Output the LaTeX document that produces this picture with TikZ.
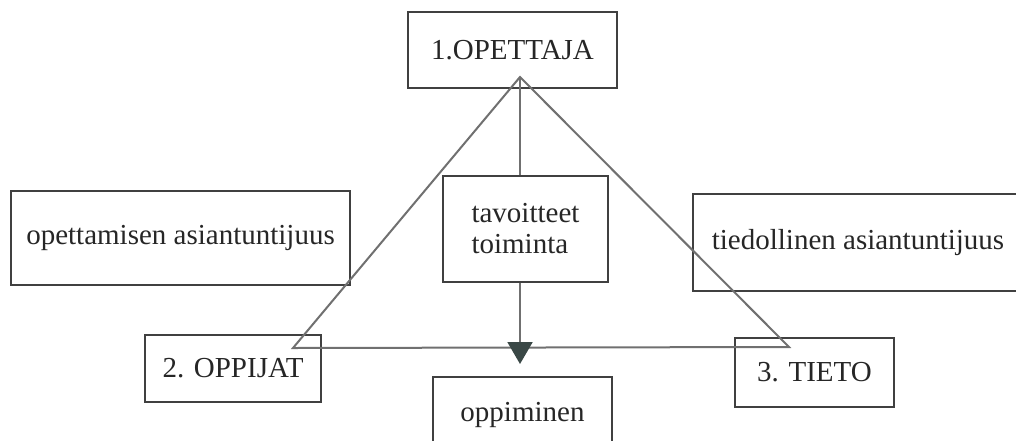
\documentclass[tikz,border=0pt]{standalone}
\usepackage{fontspec}
\setmainfont{Liberation Serif}
\usepackage{tikz}
\usepackage{xcolor}
\usetikzlibrary{positioning,arrows.meta,calc}

\definecolor{boxline}{RGB}{64,64,64}
\definecolor{triline}{RGB}{112,112,112}
\definecolor{tipfill}{RGB}{58,72,70}

\begin{document}
\begin{tikzpicture}[x=1pt, y=-1pt,
    font=\fontsize{29}{31}\selectfont,
    box/.style={rectangle, draw=boxline, line width=1.3pt, text=black!85, inner sep=0pt},
    tri/.style={draw=triline, line width=2pt}]

\useasboundingbox (0,0) rectangle (1016,440);
\clip (0,0) rectangle (1016,440);

% Corners

\node[box, minimum width = 209, minimum height = 76]  (OpettajaNode) at (512.5,50)  {1.OPETTAJA};
\node[box, minimum width = 176, minimum height = 67]  (OppijatNode)  at (233,368.5) {2. OPPIJAT};
\node[box, minimum width = 159, minimum height = 69]  (TietoNode)    at (814.5,372.5) {3. TIETO};

% Sides

\node[box, minimum width = 339, minimum height = 94]  (OpettamisenNode) at (180.5,238) {opettamisen asiantuntijuus};
\node[box, minimum width = 330, minimum height = 97]  (TiedollinenNode) at (858,242.5) {tiedollinen asiantuntijuus};

% Middle

\node[box, align=left, minimum width = 165, minimum height = 106] (TavoitteetNode) at (525.5,229) {tavoitteet\\toiminta};
\node[box, minimum width = 179, minimum height = 76]  (OppiminenNode) at (522.5,415) {oppiminen};

% Triangle

\coordinate (Apex)      at (520,77);
\coordinate (LeftBase)  at (293,348);
\coordinate (RightBase) at (789,347);
\coordinate (ArrowTip)  at (520,364);

\draw[tri] (LeftBase) -- (Apex) -- (RightBase) -- cycle;

\draw[tri] (Apex) -- (Apex |- TavoitteetNode.north);
\draw[tri, -{Triangle[width=25pt, length=22pt, fill=tipfill, color=tipfill]}] (Apex |- TavoitteetNode.south) -- (ArrowTip);

\end{tikzpicture}
\end{document}
